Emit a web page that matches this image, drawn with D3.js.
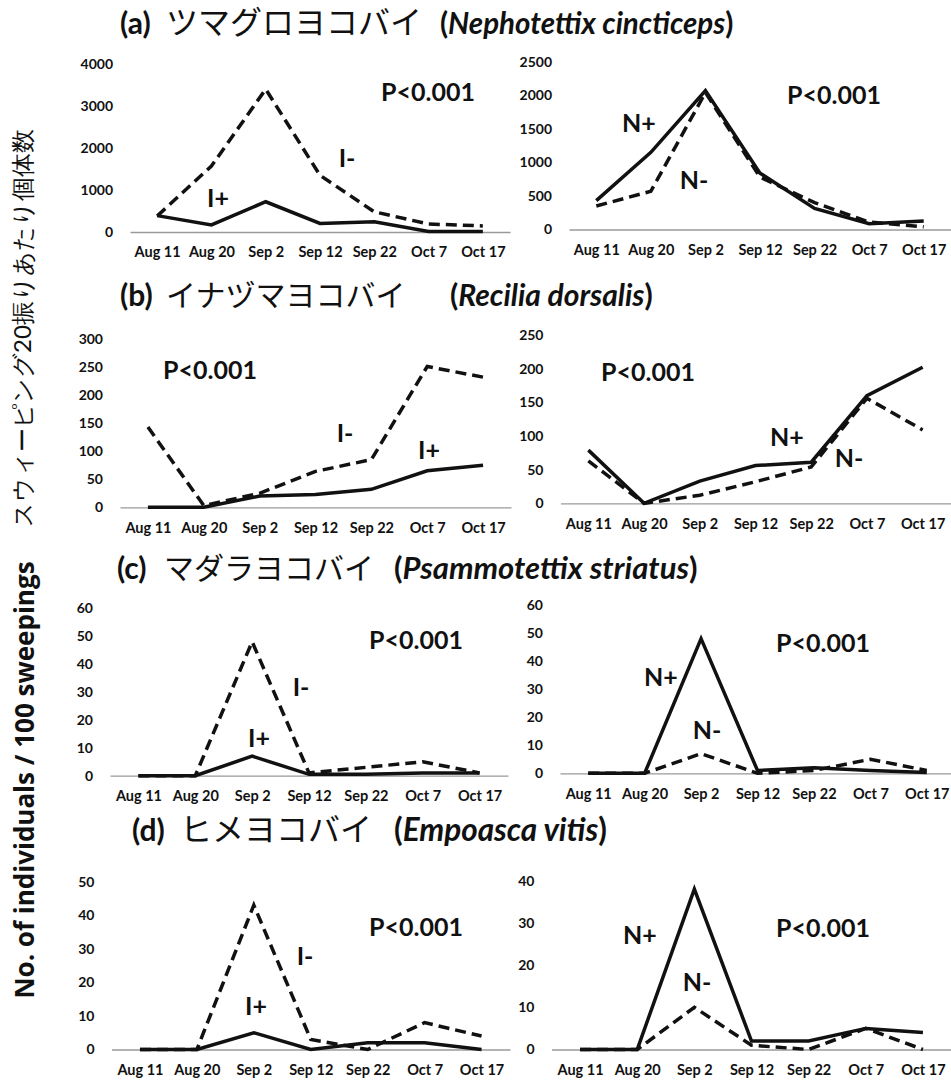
<!DOCTYPE html>
<html>
<head>
<meta charset="utf-8">
<script src="https://cdn.jsdelivr.net/npm/d3@7"></script>
<style>
  body { margin: 0; background: #fff; }
  text { font-family: Lato, "Open Sans", sans-serif; }
</style>
</head>
<body>
<div id="graf"></div>
<script>
// sampling dates (x categories)
const dates = ["Aug 11", "Aug 20", "Sep 2", "Sep 12", "Sep 22", "Oct 7", "Oct 17"]

// (a) Nephotettix cincticeps
const aInsPlus = [390, 170, 720, 205, 245, 10, 10]
const aInsMinus = [380, 1570, 3400, 1350, 480, 190, 145]
const aNitPlus = [430, 1150, 2070, 840, 315, 85, 125]
const aNitMinus = [350, 570, 2040, 780, 400, 110, 40]
const aInsTicks = [0, 1000, 2000, 3000, 4000]
const aNitTicks = [0, 500, 1000, 1500, 2000, 2500]

// (b) Recilia dorsalis
const bInsPlus = [0, 0, 20, 23, 32, 65, 75]
const bInsMinus = [143, 3, 25, 64, 85, 251, 232]
const bNitPlus = [79, 0, 33, 56, 61, 160, 202]
const bNitMinus = [63, 0, 12, 32, 54, 156, 109]
const bInsTicks = [0, 50, 100, 150, 200, 250, 300]
const bNitTicks = [0, 50, 100, 150, 200, 250]

// (c) Psammotettix striatus
const cInsPlus = [0, 0, 7, 0.5, 0.5, 1, 1]
const cInsMinus = [0, 0, 48, 1, 3, 5, 1]
const cNitPlus = [0, 0, 48, 1, 2, 1, 0.3]
const cNitMinus = [0, 0, 7, 0, 1, 5, 1]
const cTicks = [0, 10, 20, 30, 40, 50, 60]

// (d) Empoasca vitis
const dInsPlus = [0, 0, 5, 0, 2, 2, 0]
const dInsMinus = [0, 0, 43, 3, 0, 8, 4]
const dNitPlus = [0, 0, 38, 2, 2, 5, 4]
const dNitMinus = [0, 0, 10, 1, 0, 5, 0]
const dInsTicks = [0, 10, 20, 30, 40, 50]
const dNitTicks = [0, 10, 20, 30, 40]

// panel titles: tag, katakana name, species name
const titleTags = ["(a)", "(b)", "(c)", "(d)"]
const titleKana = ["ツマグロヨコバイ", "イナヅマヨコバイ", "マダラヨコバイ", "ヒメヨコバイ"]
const titleSpecies = ["Nephotettix cincticeps", "Recilia dorsalis", "Psammotettix striatus", "Empoasca vitis"]

// where each title piece sits
const titleLayout = [
  { x: 120, kx: 166, sx: 440, y: 23, ks: 32, ss: 29.5 },
  { x: 120, kx: 166, sx: 450, y: 295, ks: 30, ss: 30 },
  { x: 117, kx: 164, sx: 394, y: 568, ks: 30, ss: 31 },
  { x: 132, kx: 180, sx: 394, y: 830, ks: 32, ss: 31.5 },
]

// panel layout (pixel boxes) + which arrays go in it
const panels = [
  { x: [130, 510], y: [232, 64], ticks: aInsTicks, solid: aInsPlus, dashed: aInsMinus,
    notes: [["P<0.001", 428, 92], ["I-", 347, 158], ["I+", 218, 198]] },
  { x: [569, 951], y: [229.5, 61.7], ticks: aNitTicks, solid: aNitPlus, dashed: aNitMinus,
    notes: [["P<0.001", 834, 95], ["N+", 639, 123], ["N-", 694, 180]] },
  { x: [120, 511], y: [507.3, 339], ticks: bInsTicks, solid: bInsPlus, dashed: bInsMinus,
    notes: [["P<0.001", 210, 370], ["I-", 345, 433], ["I+", 429, 450]] },
  { x: [560.5, 950.5], y: [503.3, 335], ticks: bNitTicks, solid: bNitPlus, dashed: bNitMinus,
    notes: [["P<0.001", 648, 372], ["N+", 787, 437], ["N-", 849, 458]] },
  { x: [110, 508], y: [775.7, 608.3], ticks: cTicks, solid: cInsPlus, dashed: cInsMinus,
    notes: [["P<0.001", 416, 640], ["I-", 301, 687], ["I+", 259, 738]] },
  { x: [560, 955], y: [773.3, 605], ticks: cTicks, solid: cNitPlus, dashed: cNitMinus,
    notes: [["P<0.001", 823, 643], ["N+", 661, 677], ["N-", 707, 730]] },
  { x: [111.5, 510], y: [1049.5, 881.7], ticks: dInsTicks, solid: dInsPlus, dashed: dInsMinus,
    notes: [["P<0.001", 416, 927], ["I-", 305, 956], ["I+", 256, 1006]] },
  { x: [551.5, 951.5], y: [1049.5, 880.7], ticks: dNitTicks, solid: dNitPlus, dashed: dNitMinus,
    notes: [["P<0.001", 823, 928], ["N+", 640, 935], ["N-", 697, 982]] },
]

const svg = d3.select("#graf")
  .append("svg")
  .attr("width", 951)
  .attr("height", 1082)

// titles
titleLayout.forEach((t, i) => {
  const txt = svg.append("text")
    .attr("y", t.y)
    .attr("dy", "0.35em")
    .attr("font-size", 30)
    .attr("fill", "#111")
  txt.append("tspan")
    .attr("x", t.x)
    .attr("font-weight", "bold")
    .text(titleTags[i])
  txt.append("tspan")
    .attr("x", t.kx)
    .attr("font-size", t.ks)
    .attr("font-family", "'Noto Sans CJK JP'")
    .attr("font-weight", 400)
    .text(titleKana[i])
  txt.append("tspan")
    .attr("x", t.sx)
    .attr("font-size", t.ss)
    .attr("font-weight", "bold")
    .text("(")
  txt.append("tspan")
    .attr("font-size", t.ss)
    .attr("font-weight", "bold")
    .attr("font-style", "italic")
    .text(titleSpecies[i])
  txt.append("tspan")
    .attr("font-size", t.ss)
    .attr("font-weight", "bold")
    .text(")")
})

// y axis titles
svg.append("text")
  .attr("transform", "translate(23, 328) rotate(-90)")
  .attr("text-anchor", "middle")
  .attr("dy", "0.35em")
  .attr("font-family", "'Noto Sans CJK JP'")
  .attr("font-size", 24)
  .attr("fill", "#111")
  .text("スウィーピング20振りあたり個体数")

svg.append("text")
  .attr("transform", "translate(25, 780) rotate(-90)")
  .attr("text-anchor", "middle")
  .attr("dy", "0.35em")
  .attr("font-weight", "bold")
  .attr("font-size", 26)
  .attr("fill", "#111")
  .style("font-family", "'Open Sans', sans-serif")
  .text("No. of individuals / 100 sweepings")

panels.forEach((p) => {
  const g = svg.append("g")

  const x = d3.scalePoint().domain(dates).range(p.x).padding(0.5)
  const y = d3.scaleLinear().domain([0, d3.max(p.ticks)]).range(p.y)

  const xAxis = g.append("g")
    .attr("transform", `translate(0, ${p.y[0]})`)
    .call(d3.axisBottom(x).tickSize(0).tickPadding(15))
  xAxis.select(".domain").attr("stroke", "#9a9a9a").attr("stroke-width", 1.3)
  xAxis.selectAll("text")
    .attr("font-size", 14.5)
    .attr("font-weight", "bold")
    .attr("fill", "#111")
    .style("font-family", "Lato, sans-serif")

  const yAxis = g.append("g")
    .attr("transform", `translate(${p.x[0]}, 0)`)
    .call(d3.axisLeft(y).tickValues(p.ticks).tickFormat(d3.format("d")).tickSize(0).tickPadding(17))
  yAxis.select(".domain").remove()
  yAxis.selectAll("text")
    .attr("font-size", 14)
    .attr("font-weight", "bold")
    .attr("fill", "#111")
    .style("font-family", "Lato, sans-serif")

  const line = d3.line()
    .x((d, i) => x(dates[i]))
    .y((d) => y(d))

  g.append("path")
    .datum(p.dashed)
    .attr("d", line)
    .attr("fill", "none")
    .attr("stroke", "#111")
    .attr("stroke-width", 3.5)
    .attr("stroke-dasharray", "11,6")

  g.append("path")
    .datum(p.solid)
    .attr("d", line)
    .attr("fill", "none")
    .attr("stroke", "#111")
    .attr("stroke-width", 3.5)

  g.selectAll(".note")
    .data(p.notes)
    .enter()
    .append("text")
    .attr("class", "note")
    .attr("x", (d) => d[1])
    .attr("y", (d) => d[2])
    .attr("dy", "0.36em")
    .attr("text-anchor", "middle")
    .attr("font-size", 25)
    .attr("font-weight", "bold")
    .attr("fill", "#111")
    .text((d) => d[0])
})
</script>
</body>
</html>
